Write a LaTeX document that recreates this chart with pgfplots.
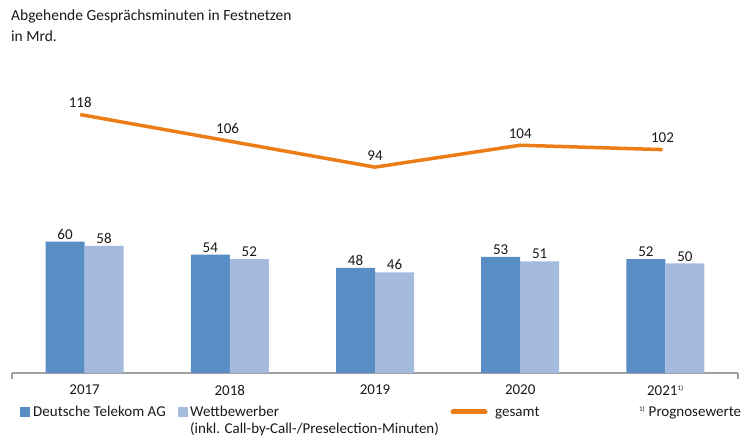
\documentclass[border=0pt]{standalone}
\usepackage{fontspec}
\setmainfont{Carlito}
\usepackage{pgfplots}
\pgfplotsset{compat=1.18}
\definecolor{dtk}{RGB}{88,142,196}
\definecolor{wtb}{RGB}{164,186,223}
\definecolor{ges}{RGB}{236,125,22}
\definecolor{axgray}{RGB}{160,160,160}
\definecolor{txt}{RGB}{25,25,25}
\begin{document}
\fontsize{15bp}{18bp}\selectfont
\begin{tikzpicture}[x=1bp,y=1bp]
\path[use as bounding box] (0,0) rectangle (750,447);
\begin{axis}[
  at={(12bp,74bp)}, anchor=south west,
  scale only axis, width=726bp, height=328.5bp,
  xmin=-0.5, xmax=4.5, ymin=0, ymax=150,
  axis x line*=bottom, axis y line=none,
  axis line style={axgray, line width=1.2bp, -},
  xtick={0,1,2,3,4},
  xticklabels={2017,2018,2019,2020,{2021\textsuperscript{\scriptsize 1)}}},
  major tick length=0pt,
  xticklabel style={font=\fontsize{15bp}{18bp}\selectfont, text=txt, yshift=-7bp},
  clip=false,
  /pgf/number format/assume math mode=true,
  nodes near coords,
  every node near coord/.append style={font=\fontsize{15bp}{18bp}\selectfont, text=txt, inner sep=2bp},
]
\addplot[ybar, bar width=39bp, bar shift=-19.5bp, fill=dtk, draw=none,
  every node near coord/.append style={xshift=-19.5bp}]
  coordinates {(0,60) (1,54) (2,48) (3,53) (4,52)};
\addplot[ybar, bar width=39bp, bar shift=19.5bp, fill=wtb, draw=none,
  every node near coord/.append style={xshift=19.5bp}]
  coordinates {(0,58) (1,52) (2,46) (3,51) (4,50)};
\addplot[ges, line width=3.5bp, mark=none, every node near coord/.append style={yshift=3bp}]
  coordinates {(-0.03,118) (0.985,106) (2,94) (3,104) (3.98,102)};
\draw[axgray, line width=1.2bp] (axis cs:-0.5,0) -- ([yshift=-6bp]axis cs:-0.5,0);
\draw[axgray, line width=1.2bp] (axis cs:4.5,0) -- ([yshift=-6bp]axis cs:4.5,0);
\end{axis}
% title
\node[anchor=base west, inner sep=0, text=txt, font=\fontsize{15.5bp}{18bp}\selectfont] at (11,426) {Abgehende Gesprächsminuten in Festnetzen};
\node[anchor=base west, inner sep=0, text=txt, font=\fontsize{15.5bp}{18bp}\selectfont] at (11,405) {in Mrd.};
% legend
\fill[dtk] (20,30) rectangle (30,40);
\node[anchor=base west, inner sep=0, text=txt] at (33,30) {Deutsche Telekom AG};
\fill[wtb] (178,30) rectangle (188,40);
\node[anchor=base west, inner sep=0, text=txt] at (190,30) {Wettbewerber};
\node[anchor=base west, inner sep=0, text=txt] at (190,13) {(inkl. Call-by-Call-/Preselection-Minuten)};
\draw[ges, line width=5bp, line cap=round] (453,35) -- (485,35);
\node[anchor=base west, inner sep=0, text=txt] at (495,30) {gesamt};
\node[anchor=base west, inner sep=0, text=txt] at (639,30) {\textsuperscript{\scriptsize 1)} Prognosewerte};
\end{tikzpicture}
\end{document}
